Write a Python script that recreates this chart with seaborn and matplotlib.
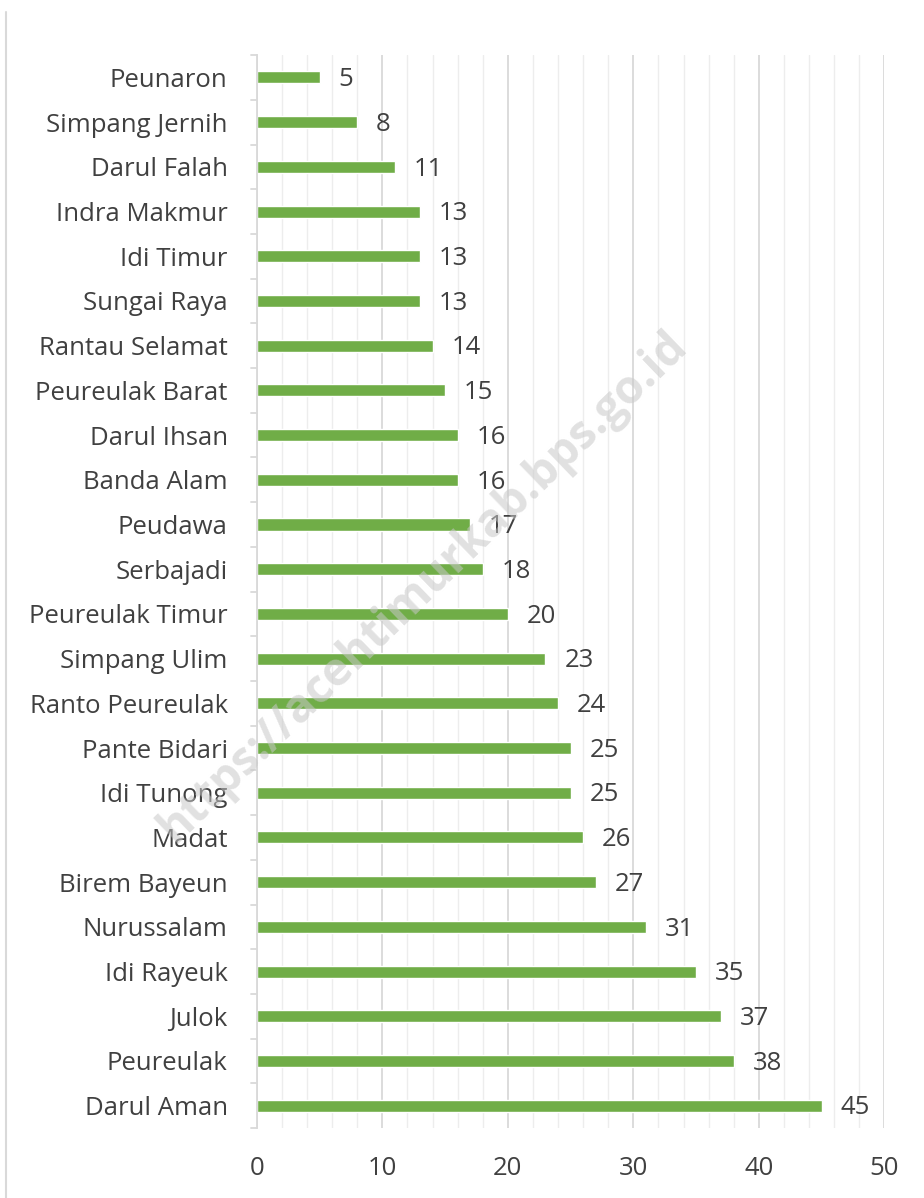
import matplotlib
matplotlib.use("Agg")
import matplotlib.pyplot as plt
from matplotlib.lines import Line2D
from matplotlib.ticker import MultipleLocator
import seaborn as sns
import pandas as pd

kecamatan = ["Peunaron", "Simpang Jernih", "Darul Falah", "Indra Makmur", "Idi Timur",
             "Sungai Raya", "Rantau Selamat", "Peureulak Barat", "Darul Ihsan", "Banda Alam",
             "Peudawa", "Serbajadi", "Peureulak Timur", "Simpang Ulim", "Ranto Peureulak",
             "Pante Bidari", "Idi Tunong", "Madat", "Birem Bayeun", "Nurussalam",
             "Idi Rayeuk", "Julok", "Peureulak", "Darul Aman"]
jumlah = [5, 8, 11, 13, 13, 13, 14, 15, 16, 16, 17, 18, 20, 23, 24, 25, 25, 26, 27, 31,
          35, 37, 38, 45]
x_ticks = [0, 10, 20, 30, 40, 50]

df = pd.DataFrame({"kecamatan": kecamatan, "jumlah": jumlah})

sns.set_style("white")
plt.rcParams["font.family"] = ["Open Sans", "DejaVu Sans"]
text_col = "#404040"
fs = 18.5

fig = plt.figure(figsize=(9.24, 11.98), dpi=100)
ax = fig.add_axes([0.278, 0.0584, 0.679, 0.8956])

sns.barplot(data=df, x="jumlah", y="kecamatan", color="#70AD47", width=0.27,
            saturation=1, orient="h", ax=ax)

ax.set_xlim(0, 50)
ax.set_ylim(len(kecamatan) - 0.5, -0.5)
ax.xaxis.set_major_locator(MultipleLocator(10))
ax.xaxis.set_minor_locator(MultipleLocator(2))
ax.grid(axis="x", which="minor", color="#EDEDED", linewidth=1)
ax.grid(axis="x", which="major", color="#D9D9D9", linewidth=1.3)
ax.set_axisbelow(True)
for s in ["top", "right", "bottom"]:
    ax.spines[s].set_visible(False)
ax.spines["left"].set_color("#D9D9D9")
ax.spines["left"].set_linewidth(1.3)

ax.set_xticks(x_ticks)
ax.tick_params(axis="x", which="both", length=0, pad=20, labelsize=fs, labelcolor=text_col)
ax.tick_params(axis="y", length=0, pad=21, labelsize=fs, labelcolor=text_col)
ax.set_xlabel("")
ax.set_ylabel("")

# category separator ticks on the left of the axis
for b in range(len(kecamatan) + 1):
    ax.plot([-0.5, 0], [b - 0.5, b - 0.5], color="#D9D9D9", lw=1.3,
            transform=ax.transData, clip_on=False)

for i, v in enumerate(jumlah):
    ax.text(v + 1.5, i + 0.05, str(v), va="center", ha="left", fontsize=fs, color=text_col)

# watermark
fig.text(0.458, 0.51, "https://acehtimurkab.bps.go.id", rotation=44, fontsize=33,
         fontweight="bold", color="#C8C8C8", alpha=0.55, ha="center", va="center")

# chart frame left edge
fig.add_artist(Line2D([0.007, 0.007], [0, 0.99], color="#D9D9D9", lw=1.5,
                      transform=fig.transFigure))

fig.savefig("out.png", dpi=100, facecolor="white")
